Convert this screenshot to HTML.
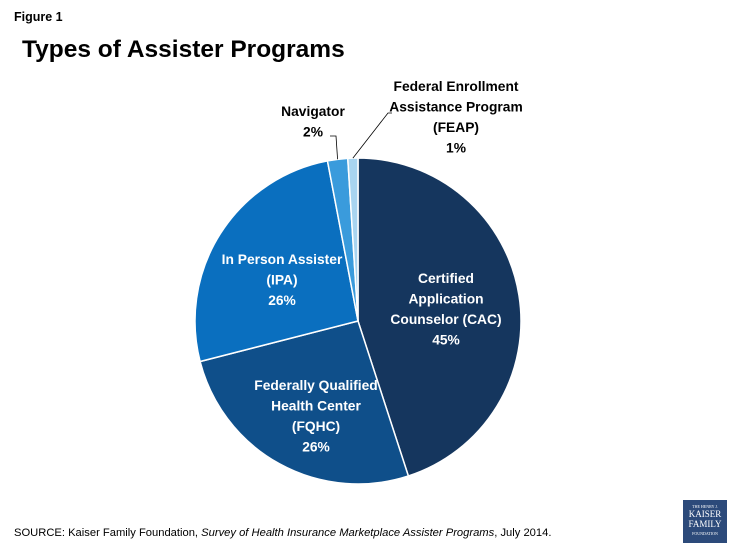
<!DOCTYPE html>
<html><head><meta charset="utf-8"><style>
body{margin:0;background:#fff;font-family:"Liberation Sans",sans-serif}
#wrap{position:relative;width:735px;height:551px;overflow:hidden}
.t{position:absolute;white-space:nowrap}
</style></head><body>
<div id="wrap">
<div class="t" style="left:14px;top:10px;font-size:12.5px;font-weight:bold">Figure 1</div>
<div class="t" style="left:22px;top:36px;font-size:24.5px;font-weight:bold;color:#000">Types of Assister Programs</div>
<svg id="pie" width="735" height="551" style="position:absolute;left:0;top:0"></svg>
<div class="t" style="left:14px;top:527px;font-size:11.2px">SOURCE: Kaiser Family Foundation, <i>Survey of Health Insurance Marketplace Assister Programs</i>, July 2014.</div>
<div style="position:absolute;left:683px;top:500px;width:44px;height:43px;background:#2c4a7a;color:#fff;text-align:center;font-family:'Liberation Serif',serif">
<div style="font-size:4px;margin-top:4px">THE HENRY J.</div>
<div style="font-size:9px;line-height:10px">KAISER<br>FAMILY</div>
<div style="font-size:4px;margin-top:2px">FOUNDATION</div>
</div>
</div>
<script>
const categories=["Certified Application Counselor (CAC)","Federally Qualified Health Center (FQHC)","In Person Assister (IPA)","Navigator","Federal Enrollment Assistance Program (FEAP)"];
const values=[45,26,26,2,1];
const colors=["#15365e","#0f4f8a","#0a6fbf","#3a9bdc","#a8d4f0"];
const svg=document.getElementById('pie');
const NS="http://www.w3.org/2000/svg";
const cx=358,cy=321,r=163;
const total=values.reduce((a,b)=>a+b,0);
function pt(f,rr){const a=f*2*Math.PI;return [cx+rr*Math.sin(a),cy-rr*Math.cos(a)];}
let acc=0;const mids=[];
values.forEach((v,i)=>{
  const f0=acc/total,f1=(acc+v)/total;acc+=v;
  const [x0,y0]=pt(f0,r),[x1,y1]=pt(f1,r);
  const p=document.createElementNS(NS,'path');
  p.setAttribute('d',`M${cx},${cy}L${x0},${y0}A${r},${r} 0 ${f1-f0>0.5?1:0} 1 ${x1},${y1}Z`);
  p.setAttribute('fill',colors[i]);p.setAttribute('stroke','#fff');p.setAttribute('stroke-width','1.5');
  
  
  svg.appendChild(p);
  mids.push((f0+f1)/2);
});
function txt(lines,x,y,color,name){
  const t=document.createElementNS(NS,'text');
  t.setAttribute('text-anchor','middle');t.setAttribute('font-size','13.8');t.setAttribute('font-weight','bold');
  t.setAttribute('fill',color);t.setAttribute('font-family','Liberation Sans, sans-serif');
  
  
  lines.forEach((l,k)=>{const s=document.createElementNS(NS,'tspan');s.setAttribute('x',x);s.setAttribute('y',y+k*20.5);s.textContent=l;t.appendChild(s);});
  svg.appendChild(t);
}
txt(["Certified","Application","Counselor (CAC)",values[0]+"%"],446,283,"#fff","label-cac");
txt(["Federally Qualified","Health Center","(FQHC)",values[1]+"%"],316,390,"#fff","label-fqhc");
txt(["In Person Assister","(IPA)",values[2]+"%"],282,264,"#fff","label-ipa");
txt(["Navigator",values[3]+"%"],313,116,"#000","label-navigator");
txt(["Federal Enrollment","Assistance Program","(FEAP)",values[4]+"%"],456,91,"#000","label-feap");
function leader(pts,name){
  const l=document.createElementNS(NS,'polyline');
  l.setAttribute('points',pts.map(p=>p.join(',')).join(' '));
  l.setAttribute('fill','none');l.setAttribute('stroke','#000');l.setAttribute('stroke-width','0.8');
  
  
  svg.appendChild(l);
}
const nav=pt(mids[3],r),fe=pt(mids[4],r);
leader([[330,136],[336,136],nav],"leader-navigator");
leader([fe,[388,113],[392,113]],"leader-feap");
</script>
</body></html>
